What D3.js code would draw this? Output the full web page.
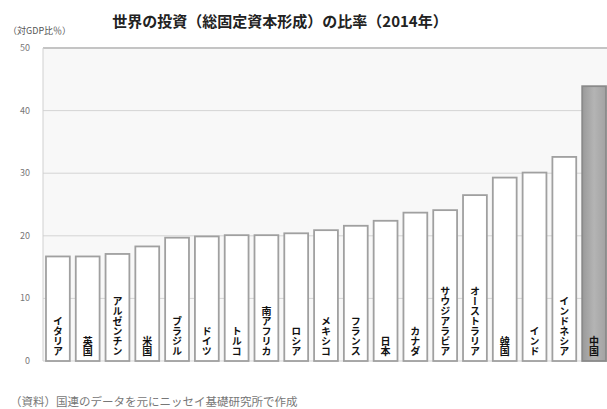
<!DOCTYPE html>
<html>
<head>
<meta charset="utf-8">
<script src="https://cdn.jsdelivr.net/npm/d3@7"></script>
<style>
body { margin: 0; background: #fff; }
svg { font-family: "Noto Sans CJK JP", sans-serif; }
</style>
</head>
<body>
<script>
var countries = ['イタリア','英国','アルゼンチン','米国','ブラジル','ドイツ','トルコ','南アフリカ','ロシア','メキシコ','フランス','日本','カナダ','サウジアラビア','オーストラリア','韓国','インド','インドネシア','中国'];
var ratios = [16.7, 16.7, 17.1, 18.3, 19.7, 19.9, 20.1, 20.1, 20.4, 20.9, 21.6, 22.4, 23.7, 24.1, 26.5, 29.3, 30.1, 32.6, 43.9];
var yTicks = [0, 10, 20, 30, 40, 50];

var data = countries.map((c, i) => ({ name: c, value: ratios[i] }));

var svg = d3.select('body').append('svg').attr('width', 607).attr('height', 409);

var defs = svg.append('defs');
var grad = defs.append('linearGradient').attr('id', 'china').attr('x1', 0).attr('x2', 1).attr('y1', 0).attr('y2', 0);
grad.append('stop').attr('offset', '0%').attr('stop-color', '#9a9a9a');
grad.append('stop').attr('offset', '50%').attr('stop-color', '#b4b4b4');
grad.append('stop').attr('offset', '100%').attr('stop-color', '#a2a2a2');

var x = d3.scaleBand().domain(countries).range([43, 609]).paddingInner(0.2).paddingOuter(0.1);
var y = d3.scaleLinear().domain([0, 50]).range([361, 48]);

// plot background
svg.append('rect')
   .attr('x', 43).attr('y', y(50))
   .attr('width', 607 - 43).attr('height', y(0) - y(50))
   .attr('fill', '#f8f8f8');

// grid
svg.selectAll('line.grid')
   .data(yTicks).enter().append('line')
   .attr('class', 'grid')
   .attr('x1', 43).attr('x2', 607)
   .attr('y1', d => y(d)).attr('y2', d => y(d))
   .attr('stroke', d => d == 50 ? '#c4c4c4' : '#d4d4d4')
   .attr('stroke-width', d => d == 50 ? 2 : 1);

svg.append('line')
   .attr('x1', 43).attr('x2', 43)
   .attr('y1', y(50)).attr('y2', y(0))
   .attr('stroke', '#d0d0d0');

// tick labels
svg.selectAll('text.tick')
   .data(yTicks).enter().append('text')
   .attr('class', 'tick')
   .attr('x', 30)
   .attr('y', d => y(d) + 3)
   .attr('text-anchor', 'end')
   .attr('font-size', 9)
   .attr('fill', '#777')
   .text(d => d);

// bars
svg.selectAll('rect.bar')
   .data(data).enter().append('rect')
   .attr('class', 'bar')
   .attr('x', d => x(d.name))
   .attr('y', d => y(d.value))
   .attr('width', x.bandwidth())
   .attr('height', d => y(0) - y(d.value))
   .attr('fill', d => d.name == '中国' ? 'url(#china)' : '#fff')
   .attr('stroke', d => d.name == '中国' ? '#8a8a8a' : '#a0a0a0')
   .attr('stroke-width', 1.8);

// vertical labels
svg.selectAll('text.label')
   .data(data).enter().append('text')
   .attr('class', 'label')
   .attr('x', d => x(d.name) + x.bandwidth() / 2)
   .attr('y', 356)
   .attr('text-anchor', 'end')
   .style('writing-mode', 'vertical-rl')
   .attr('font-size', 10)
   .attr('font-weight', 'bold')
   .attr('fill', '#111')
   .text(d => d.name);

// title
svg.append('text')
   .attr('x', 280).attr('y', 27)
   .attr('text-anchor', 'middle')
   .attr('font-size', 15)
   .attr('font-weight', 'bold')
   .attr('fill', '#222')
   .text('世界の投資（総固定資本形成）の比率（2014年）');

svg.append('text')
   .attr('x', 8).attr('y', 34)
   .attr('font-size', 9)
   .attr('fill', '#555')
   .text('（対GDP比％）');

svg.append('text')
   .attr('x', 10).attr('y', 406)
   .attr('font-size', 11.5)
   .attr('fill', '#777')
   .text('（資料）国連のデータを元にニッセイ基礎研究所で作成');
</script>
</body>
</html>
